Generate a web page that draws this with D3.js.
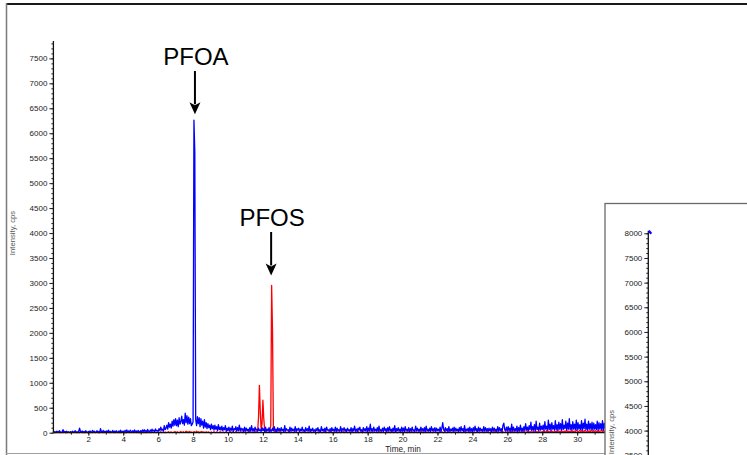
<!DOCTYPE html>
<html>
<head>
<meta charset="utf-8">
<script src="https://cdn.jsdelivr.net/npm/d3@7"></script>
<style>
  html, body { margin: 0; padding: 0; background: #fff; }
  svg { display: block; }
  text { font-family: Arial, "Liberation Sans", sans-serif; }
</style>
</head>
<body>
<svg id="chart" width="747" height="455"></svg>
<script>
// Extracted ion chromatogram, intensity (cps) sampled every 0.05 min, one row per minute.
const scanStep = 0.05;

const pfoaCps = [
  40,10,20,5,30,10,15,40,10,5,20,60,10,25,5,30,10,20,5,15,
  20,5,30,10,15,40,5,20,10,30,90,20,10,35,5,25,10,40,15,5,
  25,10,35,5,20,45,10,30,5,15,40,10,25,5,80,20,10,45,15,30,
  10,35,15,50,5,30,20,10,45,15,30,10,40,20,5,35,15,50,10,25,
  30,10,45,20,55,15,35,10,50,25,15,40,10,55,20,35,10,45,25,15,
  40,15,55,25,60,20,45,15,65,30,20,55,25,70,30,50,20,75,35,45,
  30,80,40,110,50,70,30,140,60,90,150,70,200,110,170,90,230,130,260,150,
  280,140,250,120,300,170,220,330,180,260,150,390,200,340,170,310,180,280,140,170,
  220,6260,5620,260,140,320,180,300,120,280,150,230,90,260,110,200,80,180,100,150,
  60,170,80,140,50,150,70,120,40,160,60,110,50,130,40,100,60,140,30,90,
  40,110,30,90,50,130,20,80,60,120,30,100,40,150,30,90,50,80,20,110,
  30,90,40,70,20,100,30,140,40,80,20,110,50,70,30,90,40,60,20,100,
  40,80,20,110,30,70,40,100,20,60,30,90,40,120,30,70,20,100,40,80,
  30,100,40,70,20,140,30,80,50,60,20,110,30,90,40,70,30,120,20,80,
  50,90,20,70,40,110,30,60,20,100,40,80,30,130,20,70,40,90,30,60,
  20,80,40,100,30,60,20,120,40,70,30,90,20,110,50,60,30,80,20,100,
  40,70,30,110,20,90,40,60,30,120,20,80,50,100,30,70,20,90,40,60,
  30,100,20,80,40,130,30,70,20,90,50,110,30,60,20,100,40,80,30,120,
  20,90,40,170,30,80,20,110,40,70,30,100,20,130,40,60,30,90,20,110,
  40,80,20,100,30,120,40,70,20,90,30,140,20,80,40,100,30,70,20,110,
  30,90,20,120,40,70,30,100,20,80,40,110,30,60,20,130,40,90,30,70,
  20,110,40,80,30,100,20,130,40,70,30,90,20,120,40,80,30,100,20,90,
  40,70,30,110,20,90,200,60,30,100,40,80,20,120,30,70,40,90,20,110,
  30,90,40,70,20,100,30,120,40,80,20,140,30,70,40,90,20,110,30,80,
  20,100,30,130,40,80,20,110,30,90,40,70,20,120,30,100,40,80,20,90,
  40,80,20,110,30,90,40,70,20,120,30,100,40,80,20,150,190,60,40,110,
  30,120,40,90,20,170,30,110,40,80,30,130,20,100,40,150,30,90,20,120,
  40,180,50,110,30,140,60,210,40,120,50,160,30,230,60,110,40,190,50,130,
  60,150,40,220,70,130,50,250,60,170,40,200,70,140,50,240,60,160,40,210,
  70,180,50,260,60,150,80,230,50,190,70,280,60,160,50,220,70,170,60,250,
  50,200,70,160,60,240,50,190,80,270,60,170,50,230,70,180,60,210,50,190,
  70,160,60,230,50,200,70,180,60,240,50,190,80
];

const pfosCps = [
  0,5,0,10,0,5,15,0,5,0,10,0,5,20,0,5,0,10,5,0,
  5,0,10,0,5,15,0,5,0,10,0,25,5,0,10,0,5,0,15,0,
  0,10,5,0,15,0,5,10,0,5,20,0,5,0,10,5,0,15,0,5,
  10,0,5,15,0,5,0,10,20,0,5,0,15,5,0,10,0,5,0,15,
  5,10,0,5,0,20,5,0,10,0,5,15,0,5,10,0,20,0,5,0,
  0,5,15,0,10,0,5,0,20,5,0,10,0,15,5,0,10,5,0,10,
  10,0,5,20,0,10,5,0,15,0,10,5,20,0,10,15,0,10,5,20,
  15,5,20,10,0,15,25,5,10,20,5,15,30,10,20,5,25,10,15,5,
  10,20,15,5,30,10,20,0,15,10,25,5,15,10,0,20,5,10,15,0,
  5,15,0,10,20,5,0,15,10,0,5,20,0,10,5,15,0,10,20,5,
  0,10,5,20,0,15,5,0,10,25,0,5,15,0,10,5,20,0,5,10,
  10,5,15,0,10,20,5,10,15,5,0,10,25,15,30,320,950,420,60,180,
  650,280,60,20,10,15,5,20,40,150,2950,2050,80,20,10,25,5,15,10,20,
  5,15,0,10,20,5,15,0,10,5,25,0,10,15,5,0,20,10,5,15,
  0,10,20,5,0,15,5,10,25,0,5,15,0,10,5,20,0,10,15,5,
  10,0,5,15,0,20,10,5,0,15,5,25,0,10,5,15,0,5,20,0,
  5,15,0,10,5,0,20,5,15,0,10,5,25,0,10,15,5,0,10,20,
  0,10,5,20,0,10,15,0,5,25,0,10,5,15,0,20,5,10,0,15,
  10,5,20,0,15,5,0,10,20,5,15,0,10,5,25,0,15,5,10,0,
  5,20,0,10,5,15,0,25,10,5,0,15,5,20,0,10,5,15,0,10,
  15,0,10,5,20,0,10,15,5,0,25,5,10,0,15,5,20,0,10,5,
  0,10,25,5,0,15,10,0,20,5,10,0,15,5,0,20,10,5,15,0,
  10,5,0,20,10,5,15,0,10,25,5,0,15,10,5,20,0,10,5,15,
  5,15,10,0,20,5,10,15,0,10,5,25,0,15,10,5,20,0,10,5,
  20,5,15,0,10,25,5,10,0,15,5,20,10,0,15,5,25,10,5,0,
  10,20,5,15,0,10,30,5,15,0,20,10,5,25,0,15,10,5,20,10,
  15,5,25,10,0,20,15,5,30,10,5,20,0,15,25,5,10,20,5,15,
  20,10,5,30,15,0,25,10,20,5,35,15,10,25,5,20,30,10,15,5,
  25,15,35,10,20,40,15,30,5,25,15,35,20,10,30,25,15,40,10,20,
  30,20,40,15,25,10,35,20,45,15,30,25,10,40,20,35,15,30,25,45,
  35,20,30,45,15,40,25,35,20,50,30,15,40,25,35,20,45,30,15,40,
  25,40,30,15,45,20,35,30,50,25,40,20,35
];

// Off-scale trace start seen in the second panel (cps)
const insetTraceCps = [8050, 7990];

const mainTicks = d3.range(0, 7501, 500);
const timeTicks = d3.range(2, 31, 2);
const insetTicks = d3.range(3500, 8001, 500);

const svg = d3.select("#chart");
const fmt = d3.format("d");
const fontStack = "Arial, 'Liberation Sans', sans-serif";

// Outer frame of the main panel
svg.append("line").attr("x1", 6).attr("x2", 747).attr("y1", 4).attr("y2", 4)
  .attr("stroke", "#1a1a1a").attr("stroke-width", 2);
svg.append("line").attr("x1", 6.5).attr("x2", 6.5).attr("y1", 3).attr("y2", 455)
  .attr("stroke", "#7a7a7a").attr("stroke-width", 1.5);
svg.append("line").attr("x1", 6).attr("x2", 747).attr("y1", 453.5).attr("y2", 453.5)
  .attr("stroke", "#a0a0a0").attr("stroke-width", 1);

const x = d3.scaleLinear().domain([0, 31.6]).range([53.4, 605.1]);
const y = d3.scaleLinear().domain([0, 7850]).range([432.7, 40.9]);

const labelFont = 8;

// Traces
const line = d3.line()
  .x((d, i) => x(i * scanStep))
  .y(d => y(d));

const traces = svg.append("g").attr("class", "traces");
traces.append("path").datum(pfosCps)
  .attr("d", line).attr("fill", "none")
  .attr("stroke", "#ff0000").attr("stroke-width", 1.3).attr("stroke-linejoin", "round");
traces.append("path").datum(pfoaCps)
  .attr("d", line).attr("fill", "none")
  .attr("stroke", "#0000ff").attr("stroke-width", 1.3).attr("stroke-linejoin", "round");

// Y axis: minor ticks every 100 cps, labelled every 500 cps
svg.append("g").attr("transform", `translate(${x(0)},0)`)
  .call(d3.axisLeft(y).tickValues(d3.range(0, 7801, 100)).tickSize(2).tickFormat(""))
  .call(g => g.select(".domain").remove())
  .call(g => g.selectAll("line").attr("stroke", "#222").attr("stroke-width", 1));
svg.append("g").attr("transform", `translate(${x(0)},0)`)
  .call(d3.axisLeft(y).tickValues(mainTicks).tickFormat(fmt).tickSize(4).tickPadding(2))
  .call(g => g.select(".domain").remove())
  .call(g => g.selectAll("line").attr("stroke", "#222"))
  .call(g => g.selectAll("text").attr("font-size", labelFont).attr("fill", "#222")
    .attr("font-family", fontStack));
svg.append("line").attr("x1", x(0)).attr("x2", x(0)).attr("y1", y(7850)).attr("y2", y(0))
  .attr("stroke", "#111").attr("stroke-width", 1.3);

// X axis: minor ticks every minute, labelled every 2 min
svg.append("g").attr("transform", `translate(0,${y(0)})`)
  .call(d3.axisBottom(x).tickValues(d3.range(1, 32, 1)).tickSize(2).tickFormat(""))
  .call(g => g.select(".domain").remove())
  .call(g => g.selectAll("line").attr("stroke", "#222"));
svg.append("g").attr("transform", `translate(0,${y(0)})`)
  .call(d3.axisBottom(x).tickValues(timeTicks).tickFormat(fmt).tickSize(3).tickPadding(1))
  .call(g => g.select(".domain").remove())
  .call(g => g.selectAll("line").attr("stroke", "#222"))
  .call(g => g.selectAll("text").attr("font-size", labelFont).attr("fill", "#222")
    .attr("font-family", fontStack));
svg.append("line").attr("x1", x(0)).attr("x2", x(31.6)).attr("y1", y(0)).attr("y2", y(0))
  .attr("stroke", "#111").attr("stroke-width", 1.2);

// Axis titles
svg.append("text").attr("x", 403).attr("y", 452)
  .attr("text-anchor", "middle").attr("font-size", 8.2).attr("fill", "#222")
  .text("Time, min");
svg.append("text")
  .attr("transform", "translate(14.5,233) rotate(-90)")
  .attr("text-anchor", "middle").attr("font-size", 7.7).attr("fill", "#555")
  .text("Intensity, cps");

// Peak annotations
function annotate(label, cx, textBaseline, y0, y1) {
  svg.append("text").attr("x", cx).attr("y", textBaseline)
    .attr("text-anchor", "middle").attr("font-size", 24).attr("fill", "#000")
    .text(label);
  svg.append("line").attr("x1", cx - 1).attr("x2", cx - 1).attr("y1", y0).attr("y2", y1 - 10)
    .attr("stroke", "#000").attr("stroke-width", 2);
  svg.append("path")
    .attr("d", `M${cx - 6.5},${y1 - 12} L${cx - 1},${y1} L${cx + 4.5},${y1 - 12} L${cx - 1},${y1 - 9} Z`)
    .attr("fill", "#000");
}
annotate("PFOA", x(8.05) + 2, 65, 71, y(6260) - 6);
annotate("PFOS", x(12.5) + 0.5, 226, 232, y(2950) - 10);

// Second panel overlapping the lower right corner
svg.append("rect").attr("x", 605).attr("y", 203.5).attr("width", 160).attr("height", 260)
  .attr("fill", "#fff").attr("stroke", "#6a6a6a").attr("stroke-width", 1.3);

const yi = d3.scaleLinear().domain([3400, 8000]).range([460.2, 233.3]);
const insetX = 648.3;
svg.append("g").attr("transform", `translate(${insetX},0)`)
  .call(d3.axisLeft(yi).tickValues(d3.range(3400, 8001, 100)).tickSize(2).tickFormat(""))
  .call(g => g.select(".domain").remove())
  .call(g => g.selectAll("line").attr("stroke", "#222"));
svg.append("g").attr("transform", `translate(${insetX},0)`)
  .call(d3.axisLeft(yi).tickValues(insetTicks).tickFormat(fmt).tickSize(4).tickPadding(2))
  .call(g => g.select(".domain").remove())
  .call(g => g.selectAll("line").attr("stroke", "#222"))
  .call(g => g.selectAll("text").attr("font-size", labelFont).attr("fill", "#222")
    .attr("font-family", fontStack));
svg.append("line").attr("x1", insetX).attr("x2", insetX).attr("y1", yi(8050)).attr("y2", 460)
  .attr("stroke", "#111").attr("stroke-width", 1.3);
svg.append("path").datum(insetTraceCps)
  .attr("d", d3.line().x((d, i) => insetX + 0.5 + i * 2.5).y(d => yi(d)))
  .attr("fill", "none").attr("stroke", "#0000ff").attr("stroke-width", 2.2);
svg.append("text")
  .attr("transform", "translate(613.5,432) rotate(-90)")
  .attr("text-anchor", "middle").attr("font-size", 7.7).attr("fill", "#555")
  .text("Intensity, cps");
</script>
</body>
</html>
